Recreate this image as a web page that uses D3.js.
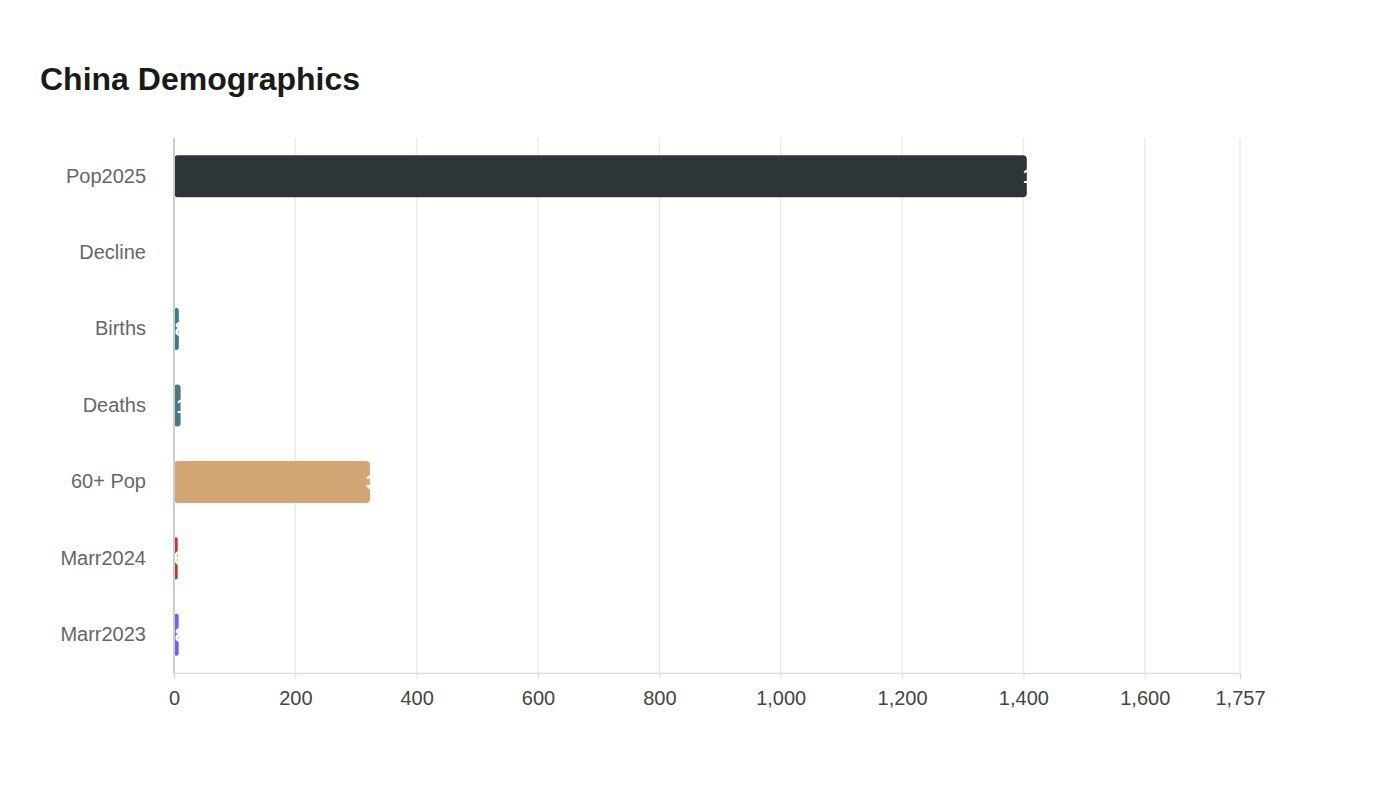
<!DOCTYPE html>
<html>
<head>
<meta charset="utf-8">
<script src="https://cdn.jsdelivr.net/npm/d3@7"></script>
<style>
body { margin: 0; background: #fff; font-family: "Liberation Sans", Arial, sans-serif; }
</style>
</head>
<body>
<svg id="chart" width="1400" height="800"></svg>
<script>
// data
const categories = ["Pop2025", "Decline", "Births", "Deaths", "60+ Pop", "Marr2024", "Marr2023"];
const values = [1405.6, 1.4, 7.9, 10.9, 323, 6.1, 7.7];
const colors = ["#2e3538", "#5d7a80", "#3a7b84", "#4b7882", "#d3a574", "#c0392b", "#7360e8"];
const tickValues = [0, 200, 400, 600, 800, 1000, 1200, 1400, 1600, 1757];

const margin = { top: 138, left: 174, right: 160, bottom: 127 };
const width = 1400, height = 800;

const svg = d3.select("#chart");

svg.append("text")
    .attr("x", 40).attr("y", 90)
    .attr("font-size", 32).attr("font-weight", "bold")
    .attr("fill", "#1a1a1a")
    .text("China Demographics");

const x = d3.scaleLinear().domain([0, 1757]).range([margin.left, width - margin.right]);
const y = d3.scaleBand().domain(categories)
    .range([margin.top, height - margin.bottom])
    .paddingInner(0.45).paddingOuter(0.225);

// grid
svg.append("g").selectAll("line")
    .data(tickValues.slice(1))
    .enter().append("line")
    .attr("x1", d => x(d)).attr("x2", d => x(d))
    .attr("y1", margin.top).attr("y2", height - margin.bottom)
    .attr("stroke", "#ebebeb").attr("stroke-width", 1.5);

// bars
svg.append("g").selectAll("rect")
    .data(values)
    .enter().append("rect")
    .attr("x", x(0))
    .attr("y", (d, i) => y(categories[i]))
    .attr("width", d => x(d) - x(0))
    .attr("height", y.bandwidth())
    .attr("rx", d => Math.min(4, (x(d) - x(0)) / 2))
    .attr("fill", (d, i) => colors[i]);

// value labels (white, at bar end)
svg.append("g").selectAll("text")
    .data(values)
    .enter().append("text")
    .attr("x", d => x(d) - 4)
    .attr("y", (d, i) => y(categories[i]) + y.bandwidth() / 2)
    .attr("dy", "0.35em")
    .attr("fill", "#fff")
    .attr("font-size", 20).attr("font-weight", "bold")
    .text(d => d3.format(",.0f")(d));

// axes
const xAxis = svg.append("g")
    .attr("transform", `translate(0,${height - margin.bottom})`)
    .call(d3.axisBottom(x).tickValues(tickValues).tickFormat(d3.format(",")).tickSize(6).tickPadding(12));
xAxis.select(".domain").attr("stroke", "#ddd").attr("stroke-width", 1.5);
xAxis.selectAll(".tick line").attr("stroke", "#ddd");
xAxis.selectAll("text").attr("font-size", 20).attr("fill", "#444").attr("font-family", "Liberation Sans, Arial, sans-serif");

const yAxis = svg.append("g")
    .attr("transform", `translate(${margin.left},0)`)
    .call(d3.axisLeft(y).tickSize(0).tickPadding(28));
yAxis.select(".domain").attr("stroke", "#ccc").attr("stroke-width", 2)
    .attr("d", `M0,${margin.top}V${height - margin.bottom}`);
yAxis.selectAll("text").attr("font-size", 20).attr("fill", "#666").attr("font-family", "Liberation Sans, Arial, sans-serif");
</script>
</body>
</html>
